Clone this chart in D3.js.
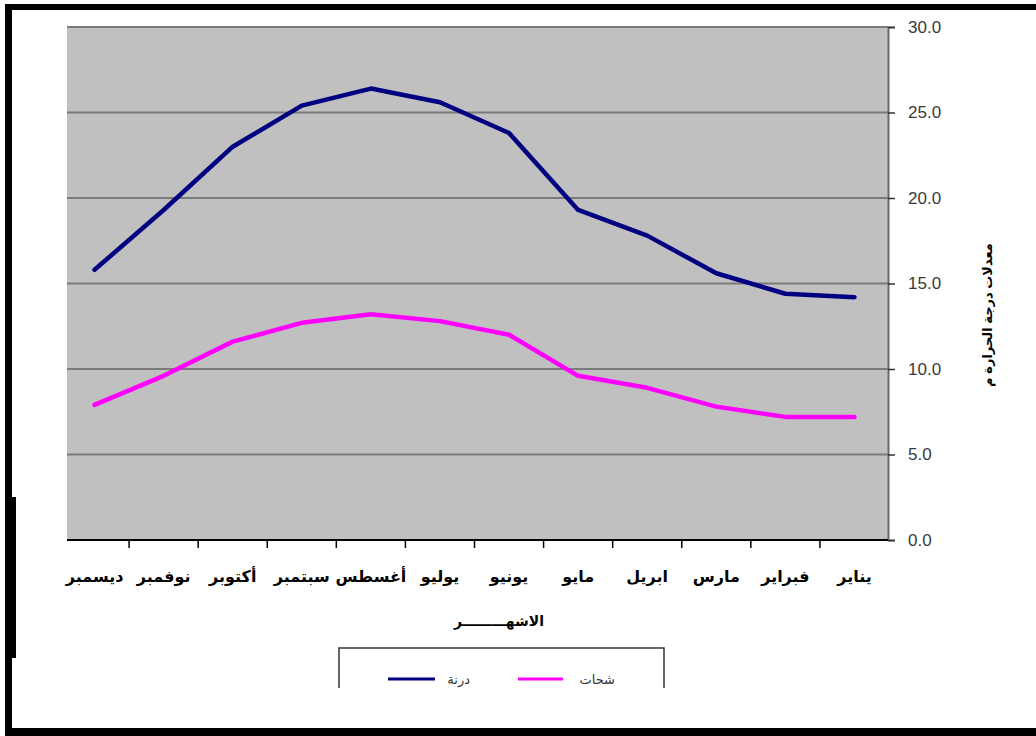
<!DOCTYPE html>
<html lang="ar">
<head>
<meta charset="utf-8">
<script src="https://cdn.jsdelivr.net/npm/d3@7"></script>
<style>
  html, body { margin: 0; padding: 0; background: #fff; }
  svg { display: block; font-family: Arial, "Liberation Sans", "DejaVu Sans", sans-serif; }
</style>
</head>
<body>
<svg id="chart" width="1036" height="736"></svg>
<script>
// Months, January to December (drawn right to left)
const months = ["يناير", "فبراير", "مارس", "ابريل", "مايو", "يونيو",
                "يوليو", "أغسطس", "سبتمبر", "أكتوبر", "نوفمبر", "ديسمبر"];
// Mean monthly temperature, °C
const derna   = [14.2, 14.4, 15.6, 17.8, 19.3, 23.8, 25.6, 26.4, 25.4, 23.0, 19.3, 15.8];
const shahhat = [7.2, 7.2, 7.8, 8.9, 9.6, 12.0, 12.8, 13.2, 12.7, 11.6, 9.6, 7.9];
const seriesNames = ["درنة", "شحات"];
const yTicks = [0, 5, 10, 15, 20, 25, 30];
const xTitle = "الاشهـــــــــر";
const yTitle = "معدلات درجة الحرارة م";

const svg = d3.select("#chart");
const W = 1036, H = 736;
const plot = { left: 67, right: 888, top: 27, bottom: 540 };

// Frame
svg.append("rect").attr("x", 0).attr("y", 0).attr("width", W).attr("height", H).attr("fill", "#fff");
svg.append("rect").attr("x", 5).attr("y", 4).attr("width", W - 5).attr("height", 6).attr("fill", "#000");
svg.append("rect").attr("x", 5).attr("y", 4).attr("width", 7).attr("height", H - 4).attr("fill", "#000");
svg.append("rect").attr("x", 5).attr("y", 497).attr("width", 11).attr("height", 161).attr("fill", "#000");
svg.append("rect").attr("x", 5).attr("y", 728).attr("width", W - 5).attr("height", 8).attr("fill", "#000");

// Scales (category bands run slightly wider than the shaded area)
const x = d3.scaleBand().domain(months.slice().reverse()).range([60, 889]).padding(0);
const y = d3.scaleLinear().domain([0, 30]).range([plot.bottom, plot.top]);
const cx = m => x(m) + x.bandwidth() / 2;

// Plot background
svg.append("rect")
  .attr("x", plot.left).attr("y", plot.top)
  .attr("width", plot.right - plot.left).attr("height", plot.bottom - plot.top)
  .attr("fill", "#c0c0c0");

// Horizontal gridlines
svg.append("g").selectAll("line")
  .data(yTicks.filter(v => v > 0))
  .join("line")
  .attr("x1", plot.left).attr("x2", plot.right)
  .attr("y1", d => y(d)).attr("y2", d => y(d))
  .attr("stroke", "#7a7a7a").attr("stroke-width", 2);

// Right value axis
const yAxis = d3.axisRight(y).tickValues(yTicks).tickSize(7).tickPadding(13).tickFormat(d3.format(".1f"));
const gy = svg.append("g").attr("transform", `translate(${plot.right},0)`).call(yAxis);
gy.select(".domain").attr("stroke", "#6a6a6a").attr("stroke-width", 2);
gy.selectAll(".tick line").attr("stroke", "#333").attr("stroke-width", 1.5);
gy.selectAll(".tick text").attr("fill", "#3a3a3a").attr("font-size", 17)
  .attr("font-family", "Arial, 'Liberation Sans', sans-serif");

// Category axis: baseline and boundary ticks
svg.append("line")
  .attr("x1", plot.left).attr("x2", plot.right)
  .attr("y1", plot.bottom).attr("y2", plot.bottom)
  .attr("stroke", "#000").attr("stroke-width", 2);
svg.append("g").selectAll("line")
  .data(x.domain().slice(1))
  .join("line")
  .attr("x1", d => x(d)).attr("x2", d => x(d))
  .attr("y1", plot.bottom).attr("y2", plot.bottom + 8)
  .attr("stroke", "#000").attr("stroke-width", 1.5);
svg.append("g").selectAll("text")
  .data(x.domain())
  .join("text")
  .attr("x", d => cx(d)).attr("y", 582)
  .attr("text-anchor", "middle")
  .attr("font-size", 16).attr("font-weight", "bold").attr("fill", "#000")
  .text(d => d);

// Axis titles
svg.append("text")
  .attr("x", 499).attr("y", 626)
  .attr("text-anchor", "middle")
  .attr("font-size", 14).attr("font-weight", "bold").attr("fill", "#000")
  .text(xTitle);
svg.append("text")
  .attr("transform", "translate(992,315) rotate(-90)")
  .attr("text-anchor", "middle")
  .attr("font-size", 13).attr("font-weight", "bold").attr("fill", "#000")
  .text(yTitle);

// Series lines
const line = d3.line().x((d, i) => cx(months[i])).y(d => y(d));
const colors = ["#000080", "#ff00ff"];
[derna, shahhat].forEach((vals, k) => {
  svg.append("path")
    .datum(vals)
    .attr("d", line)
    .attr("fill", "none")
    .attr("stroke", colors[k])
    .attr("stroke-width", 4.5)
    .attr("stroke-linejoin", "round")
    .attr("stroke-linecap", "round");
});

// Legend
svg.append("path")
  .attr("d", "M339,688 V648 H664 V688")
  .attr("fill", "none").attr("stroke", "#333").attr("stroke-width", 1.5);
const legendItems = [
  { name: seriesNames[0], color: colors[0], x1: 388, x2: 435, tx: 470 },
  { name: seriesNames[1], color: colors[1], x1: 518, x2: 563, tx: 615 }
];
legendItems.forEach(it => {
  svg.append("line")
    .attr("x1", it.x1).attr("x2", it.x2).attr("y1", 679).attr("y2", 679)
    .attr("stroke", it.color).attr("stroke-width", 3);
  svg.append("text")
    .attr("x", it.tx).attr("y", 684)
    .attr("text-anchor", "end")
    .attr("font-size", 13).attr("fill", "#333")
    .text(it.name);
});
</script>
</body>
</html>
